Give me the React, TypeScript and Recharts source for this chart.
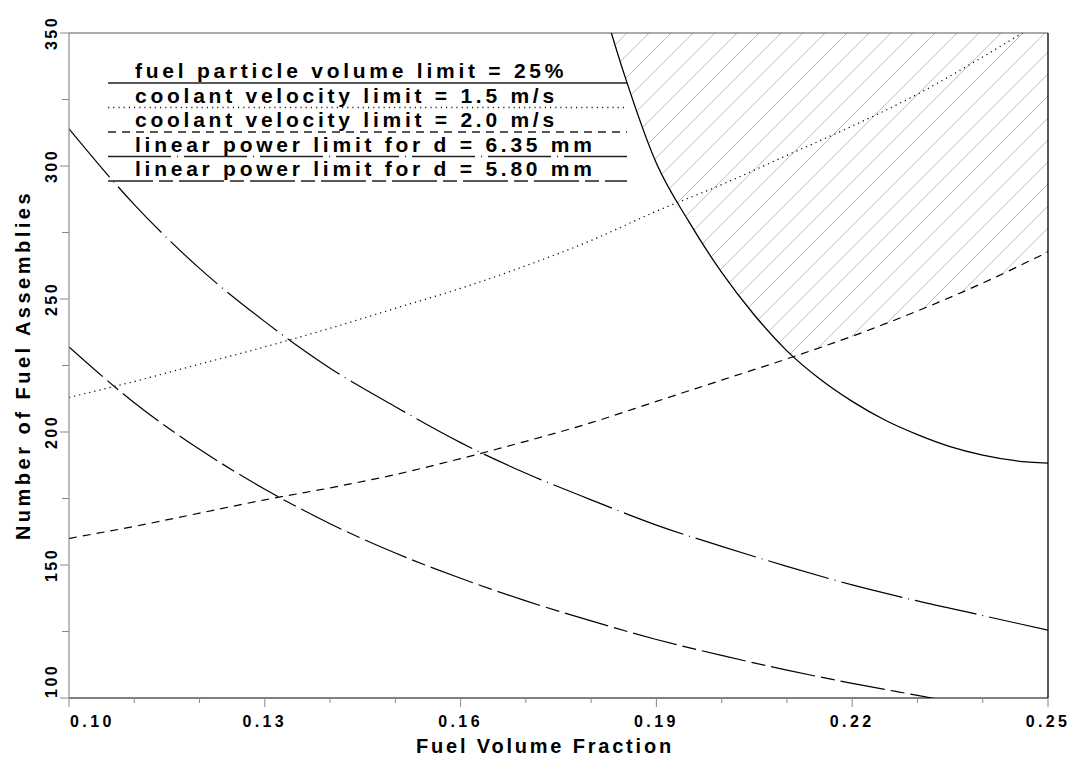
import { ComposedChart, Line, Area, XAxis, YAxis, ReferenceLine, Customized } from 'recharts';

// x grid shared by the four smooth limit curves
const xGrid = [0.10, 0.11, 0.12, 0.13, 0.14, 0.15, 0.16, 0.17, 0.18, 0.19, 0.20, 0.21, 0.22, 0.23, 0.24, 0.25];
const velocity15 = [213, 219, 225.5, 232, 239, 246.5, 254, 262.5, 272, 283, 293, 304, 315, 327, 341, 356];
const velocity20 = [160, 164.5, 169.5, 174.5, 179, 184, 190, 196.5, 203.5, 211.5, 219.5, 227.5, 236, 245.5, 256, 267.7];
const power635 = [314, 285.5, 261.5, 241.5, 224, 209.5, 196, 184.5, 174.5, 165, 157, 149.5, 142.5, 136.5, 131, 125.5];
const power580 = [232, 211, 193.5, 178.5, 165.5, 154.5, 145, 136.5, 129, 122, 116, 110.5, 105.5, 101, 96.5, 93];

// fuel particle volume limit (only on the right part)
const particleX = [0.18, 0.185, 0.19, 0.195, 0.20, 0.205, 0.21, 0.215, 0.22, 0.225, 0.23, 0.235, 0.24, 0.245, 0.25];
const particleY = [376, 335, 301, 279, 260, 244, 230.5, 220, 211.5, 204.5, 199, 194.5, 191.3, 189.2, 188.3];

// lower edge of the hatched (allowed) region, top edge is 350
const hatchX = [0.1833, 0.185, 0.19, 0.195, 0.20, 0.205, 0.21, 0.2107, 0.215, 0.22, 0.225, 0.23, 0.235, 0.24, 0.245, 0.25];
const hatchLow = [350, 335, 301, 279, 260, 244, 230.5, 228.5, 231.5, 236, 240.5, 245.5, 250.5, 256, 262, 267.7];
const hatchTop = 350;

const xTicks = [0.10, 0.11, 0.12, 0.13, 0.14, 0.15, 0.16, 0.17, 0.18, 0.19, 0.20, 0.21, 0.22, 0.23, 0.24, 0.25];
const yTicks = [100, 125, 150, 175, 200, 225, 250, 275, 300, 325, 350];

const legendRows = [
  { label: 'fuel particle volume limit = 25%', dash: undefined as string | undefined },
  { label: 'coolant velocity limit = 1.5 m/s', dash: '1.2 4' },
  { label: 'coolant velocity limit = 2.0 m/s', dash: '8 6' },
  { label: 'linear power limit for d = 6.35 mm', dash: '63 6 1 6' },
  { label: 'linear power limit for d = 5.80 mm', dash: '45 6 14 6' },
];

const toPoints = (xs: number[], ys: number[]) => xs.map((x, i) => ({ x, y: ys[i] }));

const font = '"Liberation Sans", Arial, sans-serif';

const XTick = (props: any) => {
  const { x, y, payload } = props;
  const v: number = payload.value;
  const major = Math.round(v * 100) % 3 === 1;
  const first = Math.round(v * 100) === 10;
  return (
    <g>
      <line x1={x} y1={y} x2={x} y2={y + (major ? 9 : 5)} stroke="#888" strokeWidth={1} />
      {major && (
        <text x={first ? x + 1 : x} y={y + 29} textAnchor={first ? 'start' : 'middle'}
          fontFamily={font} fontSize={16} fontWeight="bold" letterSpacing={3.4} fill="#000">
          {v.toFixed(2)}
        </text>
      )}
    </g>
  );
};

const YTick = (props: any) => {
  const { x, y, payload } = props;
  const v: number = payload.value;
  const major = v % 50 === 0;
  const tx = x - 12;
  return (
    <g>
      <line x1={x} y1={y} x2={x - (major ? 9 : 7)} y2={y} stroke="#888" strokeWidth={1} />
      {major && (
        <text x={tx} y={y} transform={`rotate(-90, ${tx}, ${y})`} textAnchor={v === 100 ? 'start' : 'middle'}
          fontFamily={font} fontSize={16} fontWeight="bold" letterSpacing={2.5} fill="#000">
          {v}
        </text>
      )}
    </g>
  );
};

const Annotations = () => (
  <g>
    {legendRows.map((r, i) => {
      const ly = 83 + i * 24.5;
      return (
        <g key={r.label}>
          <line x1={108} x2={627} y1={ly} y2={ly} stroke="#222" strokeWidth={1.3} strokeDasharray={r.dash} />
          <text x={135} y={ly - 5} fontFamily={font} fontSize={21} fontWeight="bold" letterSpacing={3.75} fill="#000">
            {r.label}
          </text>
        </g>
      );
    })}
    <text x={545} y={753} textAnchor="middle" fontFamily={font} fontSize={20} fontWeight="bold" letterSpacing={2.8} fill="#000">
      Fuel Volume Fraction
    </text>
    <text x={30} y={365} transform="rotate(-90, 30, 365)" textAnchor="middle" fontFamily={font} fontSize={20}
      fontWeight="bold" letterSpacing={3.5} fill="#000">
      Number of Fuel Assemblies
    </text>
  </g>
);

export default function App() {
  const v15 = toPoints(xGrid, velocity15);
  const v20 = toPoints(xGrid, velocity20);
  const p635 = toPoints(xGrid, power635);
  const p580 = toPoints(xGrid, power580);
  const particle = toPoints(particleX, particleY);
  const hatch = hatchX.map((x, i) => ({ x, range: [hatchLow[i], hatchTop] }));

  return (
    <div style={{ position: 'absolute', left: 0, top: 0, background: '#fff' }}>
      <ComposedChart width={1072} height={760} margin={{ top: 33, right: 24, bottom: 12, left: 0 }}>
        <defs>
          <pattern id="hatch" patternUnits="userSpaceOnUse" width={22} height={22}>
            <path d="M0,22 L22,0 M-6,6 L6,-6 M16,28 L28,16" stroke="#888" strokeWidth={0.9} />
          </pattern>
        </defs>
        <XAxis dataKey="x" type="number" domain={[0.1, 0.25]} ticks={xTicks} allowDataOverflow
          height={50} stroke="#000" tickSize={0} tickMargin={0} tickLine={false} tick={<XTick />} interval={0} />
        <YAxis type="number" domain={[100, 350]} ticks={yTicks} allowDataOverflow width={69}
          stroke="#777" tickSize={0} tickMargin={0} tickLine={false} tick={<YTick />} interval={0} />
        <Area data={hatch} dataKey="range" type="linear" stroke="none" fill="url(#hatch)" isAnimationActive={false} />
        <ReferenceLine y={350} stroke="#555" strokeWidth={1} />
        <ReferenceLine x={0.25} stroke="#000" strokeWidth={1.3} />
        <Line data={v15} dataKey="y" type="monotone" stroke="#000" strokeWidth={1.2} strokeDasharray="1.2 4" dot={false} isAnimationActive={false} />
        <Line data={v20} dataKey="y" type="monotone" stroke="#000" strokeWidth={1.2} strokeDasharray="8 6" dot={false} isAnimationActive={false} />
        <Line data={p635} dataKey="y" type="monotone" stroke="#000" strokeWidth={1.2} strokeDasharray="63 6 1 6" dot={false} isAnimationActive={false} />
        <Line data={p580} dataKey="y" type="monotone" stroke="#000" strokeWidth={1.2} strokeDasharray="45 6 14 6" dot={false} isAnimationActive={false} />
        <Line data={particle} dataKey="y" type="monotone" stroke="#000" strokeWidth={1.3} dot={false} isAnimationActive={false} />
        <Customized component={Annotations} />
      </ComposedChart>
    </div>
  );
}
